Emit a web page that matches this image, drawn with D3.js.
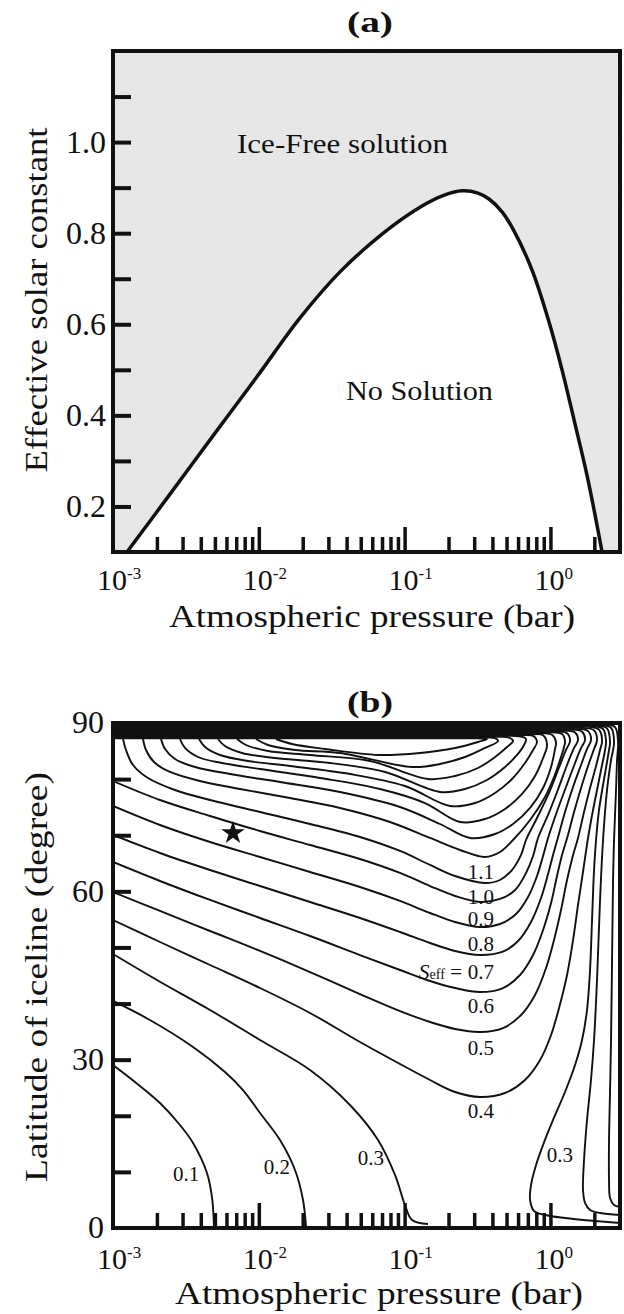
<!DOCTYPE html>
<html>
<head>
<meta charset="utf-8">
<script src="https://cdn.jsdelivr.net/npm/d3@7"></script>
<style>
html,body{margin:0;padding:0;background:#fff;}
svg text{font-family:"Liberation Serif","Times New Roman",serif;fill:#111;}
</style>
</head>
<body>
<svg id="chart" width="624" height="1314" viewBox="0 0 624 1314"></svg>
<script>
// ================= DATA =================
const pressureDomain = [0.001, 3];
const solarDomain = [0.1, 1.2];
const latitudeDomain = [0, 90];

const pressureDecades = [0.001, 0.01, 0.1, 1];
const pressureExponents = ["-3", "-2", "-1", "0"];

const solarTicks = [0.2, 0.3, 0.4, 0.5, 0.6, 0.7, 0.8, 0.9, 1.0, 1.1];
const solarTickLabels = [0.2, 0.4, 0.6, 0.8, 1.0];
const latitudeTicks = [10, 20, 30, 40, 50, 60, 70, 80];
const latitudeTickLabels = [0, 30, 60, 90];

// Panel (a): boundary of the ice-free solution
const boundaryPressure = [0.001247, 0.00246, 0.00485, 0.00957, 0.01917, 0.03605, 0.0700, 0.1275, 0.189, 0.2475, 0.3187, 0.379, 0.4656, 0.554, 0.748, 0.978, 1.201, 1.452, 1.811, 2.26];
const boundarySolar = [0.1, 0.227, 0.355, 0.482, 0.614, 0.715, 0.798, 0.857, 0.884, 0.893, 0.888, 0.875, 0.847, 0.809, 0.719, 0.605, 0.500, 0.390, 0.258, 0.1];

// Panel (b): iceline latitude contours, [pressure (bar), latitude (deg)]
const c01 = [[0.001,29.05],[0.001416,26.02],[0.0021,22.28],[0.00288,18.36],[0.00354,15.15],[0.00441,9.80],[0.00478,5.35],[0.00493,0]];
const c02 = [[0.001,40.46],[0.00179,37.07],[0.00354,32.26],[0.00586,27.80],[0.00779,24.59],[0.01019,20.50],[0.01397,15.68],[0.01771,10.34],[0.0201,4.99],[0.0211,0]];
const c03 = [[0.001,48.83],[0.002,44.20],[0.00463,38.85],[0.01019,33.51],[0.02245,28.16],[0.0422,21.92],[0.0657,15.68],[0.0859,9.45],[0.1006,4.10],[0.1124,1.43],[0.1447,0.71]];
const c04 = [[0.001,54.89],[0.0021,50.97],[0.00463,46.87],[0.01019,42.77],[0.02245,38.32],[0.0494,33.15],[0.093,29.23],[0.1494,26.38],[0.2217,24.24],[0.329,23.35],[0.488,24.06],[0.669,26.38],[0.849,29.94],[1.01,34.40],[1.16,39.74],[1.30,45.09],[1.43,51.33],[1.546,57.57],[1.673,63.45],[1.811,69.51],[1.96,74.50],[2.121,78.95],[2.26,82.52],[2.369,85.19],[2.406,86.79],[2.295,88.93],[1.96,89.47],[0.2,89.47],[0.001,89.47]];
const c05 = [[0.001,59.88],[0.0021,56.50],[0.00463,52.93],[0.01019,49.37],[0.02245,45.62],[0.0494,41.70],[0.093,38.67],[0.1494,36.71],[0.2217,35.47],[0.329,34.93],[0.473,35.64],[0.629,37.96],[0.784,41.53],[0.933,46.34],[1.058,51.33],[1.182,56.67],[1.30,62.02],[1.43,66.48],[1.546,69.51],[1.70,74.14],[1.869,78.42],[2.055,82.34],[2.189,85.19],[2.26,86.79],[2.154,88.81],[1.84,89.30],[0.2,89.30],[0.001,89.30]];
const c06 = [[0.001,65.23],[0.0021,61.84],[0.00463,58.46],[0.01019,55.25],[0.02245,52.04],[0.0494,48.65],[0.093,45.98],[0.1494,44.02],[0.2217,42.77],[0.329,42.06],[0.473,42.77],[0.619,45.09],[0.760,48.65],[0.890,53.11],[1.01,57.92],[1.106,62.56],[1.201,66.48],[1.32,70.04],[1.452,74.14],[1.622,78.42],[1.811,82.34],[1.991,85.37],[2.087,86.97],[1.991,88.68],[1.70,89.14],[0.2,89.14],[0.001,89.14]];
const c07 = [[0.001,70.04],[0.0021,66.83],[0.00463,63.80],[0.01019,60.95],[0.02245,58.10],[0.0494,55.25],[0.093,52.75],[0.1494,50.79],[0.2217,49.37],[0.329,48.65],[0.466,49.19],[0.600,51.15],[0.736,54.54],[0.862,58.81],[0.963,63.09],[1.042,66.48],[1.124,69.51],[1.259,74.14],[1.429,78.60],[1.622,82.52],[1.782,85.37],[1.898,86.97],[1.811,88.56],[1.546,88.98],[0.2,88.98],[0.001,88.98]];
const c08 = [[0.001,75.21],[0.0021,71.82],[0.00463,68.79],[0.01019,66.12],[0.02245,63.45],[0.0494,60.77],[0.093,58.28],[0.1494,56.14],[0.2217,54.54],[0.329,53.64],[0.451,54.18],[0.581,55.96],[0.702,58.99],[0.809,62.73],[0.890,66.30],[0.963,69.51],[1.106,74.14],[1.279,78.60],[1.475,82.87],[1.622,85.55],[1.727,86.97],[1.648,88.43],[1.406,88.82],[0.2,88.82],[0.001,88.82]];
const c09 = [[0.001,79.66],[0.0021,76.28],[0.00463,73.43],[0.01019,70.75],[0.02245,68.26],[0.0494,65.76],[0.093,63.27],[0.1494,60.95],[0.2217,59.17],[0.329,58.10],[0.451,58.64],[0.572,60.24],[0.680,63.27],[0.760,66.30],[0.822,69.51],[0.963,73.61],[1.124,78.06],[1.30,82.52],[1.452,85.55],[1.546,86.97],[1.475,88.31],[1.259,88.66],[0.2,88.66],[0.001,88.66]];
const c10 = [[0.001171,87.15],[0.001228,85.19],[0.001371,82.52],[0.001738,80.20],[0.002662,78.06],[0.00463,76.28],[0.01019,74.14],[0.02245,72.00],[0.0494,69.68],[0.093,67.19],[0.1494,64.70],[0.2217,62.73],[0.356,61.49],[0.451,62.02],[0.545,63.80],[0.629,66.48],[0.680,69.15],[0.809,73.07],[0.978,77.53],[1.142,81.98],[1.279,85.19],[1.363,86.79],[1.30,88.18],[1.106,88.50],[0.2,88.50],[0.001,88.50]];
const c11 = [[0.001606,87.15],[0.001684,85.19],[0.001911,83.05],[0.00246,81.27],[0.00395,79.66],[0.00743,78.24],[0.01637,76.63],[0.03605,74.86],[0.0794,72.36],[0.1494,69.51],[0.2399,67.37],[0.356,66.12],[0.451,67.01],[0.554,69.15],[0.725,72.71],[0.918,76.81],[1.072,80.73],[1.182,83.94],[1.240,85.73],[1.259,86.79],[1.201,88.04],[1.026,88.34],[0.2,88.34],[0.001,88.34]];
const c12 = [[0.002134,87.15],[0.002274,85.37],[0.002662,83.59],[0.003651,82.16],[0.00634,80.91],[0.01397,79.49],[0.03605,77.71],[0.093,75.03],[0.1749,72.00],[0.2809,69.51],[0.417,70.22],[0.554,72.00],[0.725,74.86],[0.890,78.42],[1.01,82.16],[1.072,85.19],[1.092,86.62],[1.026,87.90],[0.876,88.18],[0.2,88.18],[0.001,88.18]];
const c13 = [[0.00288,87.15],[0.003118,85.55],[0.00383,83.94],[0.00559,82.87],[0.01019,81.80],[0.02629,80.20],[0.0678,78.24],[0.138,75.74],[0.2399,72.36],[0.356,72.89],[0.488,74.68],[0.639,77.35],[0.784,80.56],[0.890,83.76],[0.948,86.08],[0.890,87.80],[0.760,88.02],[0.2,88.02],[0.001,88.02]];
const c14 = [[0.003889,87.15],[0.004276,85.73],[0.00542,84.30],[0.00843,83.23],[0.01637,82.34],[0.0422,80.91],[0.1006,78.77],[0.2048,75.21],[0.304,75.74],[0.417,77.53],[0.545,80.02],[0.669,82.87],[0.760,85.19],[0.809,86.62],[0.760,87.70],[0.649,87.86],[0.2,87.86],[0.001,87.86]];
const c15 = [[0.00525,87.15],[0.00586,85.90],[0.00767,84.66],[0.01291,83.76],[0.03078,82.87],[0.0734,81.27],[0.1749,77.71],[0.2596,78.24],[0.367,79.84],[0.488,82.16],[0.590,84.30],[0.659,86.08],[0.680,87.15],[0.639,87.55],[0.545,87.70],[0.2,87.70],[0.001,87.70]];
const c16 = [[0.00709,87.15],[0.00817,86.08],[0.01156,85.01],[0.02245,84.30],[0.0579,83.23],[0.1447,80.02],[0.2217,80.56],[0.3187,81.98],[0.417,83.94],[0.504,85.73],[0.554,86.79],[0.520,87.40],[0.444,87.55],[0.2,87.55],[0.001,87.55]];
const c17 = [[0.00957,87.15],[0.01156,86.08],[0.01771,85.19],[0.03605,84.66],[0.1124,82.16],[0.1749,82.69],[0.2596,83.94],[0.356,85.55],[0.437,86.79],[0.417,87.30],[0.356,87.40],[0.2,87.40],[0.001,87.40]];
const c18 = [[0.01312,87.15],[0.01689,86.26],[0.02844,85.37],[0.0657,84.30],[0.1275,84.66],[0.2217,85.55],[0.3187,86.62],[0.367,87.15],[0.345,87.25],[0.2944,87.28],[0.1,87.28],[0.001,87.28]];
const c03r = [[3.0,0.89],[2.022,1.25],[1.259,1.78],[0.918,2.32],[0.772,3.03],[0.725,4.99],[0.736,7.66],[0.797,11.23],[0.890,14.79],[1.042,19.25],[1.259,24.24],[1.475,29.05],[1.648,33.51],[1.782,38.85],[1.869,45.98],[1.929,54.89],[1.991,63.80],[2.055,69.15],[2.154,74.50],[2.295,78.95],[2.444,83.05],[2.523,85.19],[2.564,86.62],[2.444,89.04],[2.087,89.50],[0.2,89.50],[0.001,89.50]];
const c02r = [[3.0,2.32],[2.189,2.67],[1.869,3.21],[1.727,4.46],[1.673,6.77],[1.70,12.12],[1.782,19.25],[1.898,26.38],[1.991,33.51],[2.087,44.20],[2.189,58.46],[2.295,69.15],[2.444,78.06],[2.604,83.41],[2.731,86.62],[2.604,89.15],[2.224,89.62],[0.2,89.62],[0.001,89.62]];
const c01r = [[3.0,3.74],[2.731,4.10],[2.564,5.35],[2.523,8.55],[2.523,15.68],[2.564,24.59],[2.604,33.51],[2.646,47.76],[2.688,62.02],[2.731,69.15],[2.818,78.06],[2.863,83.41],[2.909,86.62],[2.775,89.25],[2.369,89.75],[0.2,89.75],[0.001,89.75]];
const contours = [c01, c02, c03, c04, c05, c06, c07, c08, c09, c10, c11, c12, c13, c14, c15, c16, c17, c18, c03r, c02r, c01r];

// contour labels
const labelText = ["1.1", "1.0", "0.9", "0.8", "0.7", "0.6", "0.5", "0.4", "0.1", "0.2", "0.3", "0.3"];
const labelPressure = [0.334, 0.334, 0.334, 0.334, 0.334, 0.334, 0.334, 0.334, 0.00317, 0.0133, 0.0588, 1.16];
const labelLatitude = [63.45, 59.0, 55.07, 50.6, 45.7, 39.7, 32.1, 21.0, 9.6, 10.9, 12.5, 13.0];

// star marker
const starPoint = [0.00665, 70.4];

// ================= DRAW =================
const svg = d3.select("#chart");
const X0 = 113, X1 = 620;

const xA = d3.scaleLog().domain(pressureDomain).range([X0, X1]);
const yA = d3.scaleLinear().domain(solarDomain).range([552, 51]);
const xB = d3.scaleLog().domain(pressureDomain).range([X0, X1]);
const yB = d3.scaleLinear().domain(latitudeDomain).range([1228, 723]);

const minorPressure = xA.ticks().filter(v => v > pressureDomain[0] * 1.0001 && v < pressureDomain[1] * 0.999 && !pressureDecades.some(d => Math.abs(d - v) / d < 1e-6));
const majorPressure = pressureDecades.filter(v => v > pressureDomain[0] * 1.0001);

const defs = svg.append("defs");
defs.append("clipPath").attr("id", "clipA").append("rect")
  .attr("x", X0).attr("y", yA(solarDomain[1])).attr("width", X1 - X0).attr("height", yA(solarDomain[0]) - yA(solarDomain[1]));
defs.append("clipPath").attr("id", "clipB").append("rect")
  .attr("x", X0).attr("y", yB(90)).attr("width", X1 - X0).attr("height", yB(0) - yB(90));
const grain = defs.append("filter").attr("id", "grain").attr("x", 0).attr("y", 0).attr("width", "100%").attr("height", "100%");
grain.append("feTurbulence").attr("type", "fractalNoise").attr("baseFrequency", 0.85).attr("numOctaves", 2).attr("seed", 7);
grain.append("feColorMatrix").attr("type", "matrix")
  .attr("values", "0.33 0.33 0.33 0 0  0.33 0.33 0.33 0 0  0.33 0.33 0.33 0 0  0 0 0 0 1");

function styleAxis(g, sw) {
  g.attr("font-size", null).attr("font-family", null);
  g.select(".domain").remove();
  g.selectAll(".tick line").attr("stroke", "#111").attr("stroke-width", sw);
  g.selectAll(".tick text").attr("fill", "#111").style("font-size", "32px");
}

function bottomAxis(x, yBottom) {
  const gMin = svg.append("g").attr("transform", `translate(0,${yBottom})`)
    .call(d3.axisBottom(x).tickValues(minorPressure).tickSize(-15).tickFormat(""));
  styleAxis(gMin, 3.5);
  const gMaj = svg.append("g").attr("transform", `translate(0,${yBottom})`)
    .call(d3.axisBottom(x).tickValues(majorPressure).tickSize(-25).tickFormat(""));
  styleAxis(gMaj, 3.5);
}

function decadeLabels(x, baseline) {
  pressureDecades.forEach((d, i) => {
    const t = svg.append("text").attr("x", x(d) - 16).attr("y", baseline).style("font-size", "30px");
    t.append("tspan").text("10");
    t.append("tspan").attr("dy", -11).style("font-size", "17px").text(pressureExponents[i]);
  });
}

// ---------- Panel (a) ----------
const boundary = boundaryPressure.map((p, i) => ({ p, s: boundarySolar[i] }));
const gA = svg.append("g").attr("clip-path", "url(#clipA)");
gA.append("rect").attr("x", X0).attr("y", yA(solarDomain[1])).attr("width", X1 - X0)
  .attr("height", yA(solarDomain[0]) - yA(solarDomain[1])).attr("fill", "#ebebeb");
gA.append("rect").attr("x", X0).attr("y", yA(solarDomain[1])).attr("width", X1 - X0)
  .attr("height", yA(solarDomain[0]) - yA(solarDomain[1])).attr("filter", "url(#grain)").attr("opacity", 0.08);
const curveA = d3.curveCatmullRom.alpha(0.5);
gA.append("path").datum(boundary)
  .attr("d", d3.area().x(d => xA(d.p)).y0(yA(solarDomain[0])).y1(d => yA(d.s)).curve(curveA))
  .attr("fill", "#fff");
gA.append("path").datum(boundary)
  .attr("d", d3.line().x(d => xA(d.p)).y(d => yA(d.s)).curve(curveA))
  .attr("fill", "none").attr("stroke", "#111").attr("stroke-width", 3.5);

const yAxisA = svg.append("g").attr("transform", `translate(${X0},0)`)
  .call(d3.axisLeft(yA).tickValues(solarTicks).tickSize(-18).tickPadding(7)
    .tickFormat(d => solarTickLabels.some(v => Math.abs(v - d) < 1e-9) ? d.toFixed(1) : ""));
styleAxis(yAxisA, 4);
bottomAxis(xA, yA(solarDomain[0]));
svg.append("rect").attr("x", X0).attr("y", yA(solarDomain[1])).attr("width", X1 - X0)
  .attr("height", yA(solarDomain[0]) - yA(solarDomain[1]))
  .attr("fill", "none").attr("stroke", "#111").attr("stroke-width", 4);
decadeLabels(xA, 590);

svg.append("text").attr("x", xA(0.00709)).attr("y", yA(0.976)).style("font-size", "28px")
  .attr("textLength", 211).attr("lengthAdjust", "spacingAndGlyphs").text("Ice-Free solution");
svg.append("text").attr("x", xA(0.0396)).attr("y", yA(0.434)).style("font-size", "28px")
  .attr("textLength", 147).attr("lengthAdjust", "spacingAndGlyphs").text("No Solution");
svg.append("text").attr("x", 370).attr("y", 32).attr("text-anchor", "middle")
  .style("font-size", "30px").style("font-weight", "bold")
  .attr("textLength", 46).attr("lengthAdjust", "spacingAndGlyphs").text("(a)");
svg.append("text").attr("x", 372).attr("y", 627).attr("text-anchor", "middle").style("font-size", "31px")
  .attr("textLength", 406).attr("lengthAdjust", "spacingAndGlyphs").text("Atmospheric pressure (bar)");
svg.append("text").attr("transform", "translate(47,300) rotate(-90)").attr("text-anchor", "middle")
  .style("font-size", "32px").attr("textLength", 345).attr("lengthAdjust", "spacingAndGlyphs")
  .text("Effective solar constant");

// ---------- Panel (b) ----------
const gB = svg.append("g").attr("clip-path", "url(#clipB)");
const lineB = d3.line().x(d => xB(d[0])).y(d => yB(d[1])).curve(d3.curveCatmullRom.alpha(0.5));
gB.selectAll("path.contour").data(contours).join("path").attr("class", "contour")
  .attr("d", lineB).attr("fill", "none").attr("stroke", "#111").attr("stroke-width", 1.9)
  .attr("stroke-linejoin", "round");

gB.append("path").attr("d", d3.symbol(d3.symbolStar, 170)())
  .attr("transform", `translate(${xB(starPoint[0])},${yB(starPoint[1])})`).attr("fill", "#111");

labelText.forEach((t, i) => {
  svg.append("text").attr("x", xB(labelPressure[i])).attr("y", yB(labelLatitude[i]))
    .attr("text-anchor", "middle").attr("dy", "0.35em").style("font-size", "21px").text(t);
});
// "S_eff =" prefix of the 0.7 label
const seff = svg.append("text").attr("x", xB(labelPressure[4]) - 19).attr("y", yB(labelLatitude[4]))
  .attr("text-anchor", "end").attr("dy", "0.35em").style("font-size", "21px");
seff.append("tspan").style("font-style", "italic").style("font-size", "22px").text("S");
seff.append("tspan").style("font-size", "14px").text("eff");
seff.append("tspan").text(" =");

const yAxisB = svg.append("g").attr("transform", `translate(${X0},0)`)
  .call(d3.axisLeft(yB).tickValues(latitudeTicks).tickSize(-18).tickFormat(""));
styleAxis(yAxisB, 4);
latitudeTickLabels.forEach(v => {
  svg.append("text").attr("x", X0 - 9).attr("y", yB(v)).attr("dy", "0.32em")
    .attr("text-anchor", "end").style("font-size", "32px").text(v);
});
bottomAxis(xB, yB(0));
svg.append("rect").attr("x", X0).attr("y", yB(90)).attr("width", X1 - X0).attr("height", yB(0) - yB(90))
  .attr("fill", "none").attr("stroke", "#111").attr("stroke-width", 4);
decadeLabels(xB, 1269);

svg.append("text").attr("x", 370).attr("y", 712).attr("text-anchor", "middle")
  .style("font-size", "30px").style("font-weight", "bold")
  .attr("textLength", 46).attr("lengthAdjust", "spacingAndGlyphs").text("(b)");
svg.append("text").attr("x", 379).attr("y", 1304).attr("text-anchor", "middle").style("font-size", "31px")
  .attr("textLength", 408).attr("lengthAdjust", "spacingAndGlyphs").text("Atmospheric pressure (bar)");
svg.append("text").attr("transform", "translate(47,977) rotate(-90)").attr("text-anchor", "middle")
  .style("font-size", "32px").attr("textLength", 410).attr("lengthAdjust", "spacingAndGlyphs")
  .text("Latitude of  iceline (degree)");
</script>
</body>
</html>
